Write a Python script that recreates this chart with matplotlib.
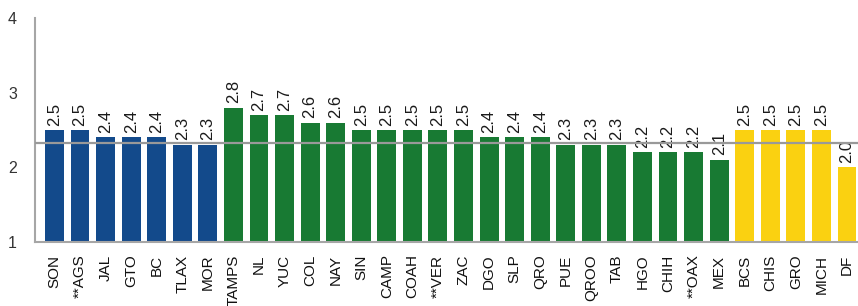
import matplotlib.pyplot as plt

plt.rcParams['font.family'] = ['Liberation Sans', 'DejaVu Sans']

# states, grouped by colour
states = ['SON', '**AGS', 'JAL', 'GTO', 'BC', 'TLAX', 'MOR',
          'TAMPS', 'NL', 'YUC', 'COL', 'NAY', 'SIN', 'CAMP', 'COAH', '**VER',
          'ZAC', 'DGO', 'SLP', 'QRO', 'PUE', 'QROO', 'TAB', 'HGO', 'CHIH',
          '**OAX', 'MEX',
          'BCS', 'CHIS', 'GRO', 'MICH', 'DF']
values = [2.5, 2.5, 2.4, 2.4, 2.4, 2.3, 2.3,
          2.8, 2.7, 2.7, 2.6, 2.6, 2.5, 2.5, 2.5, 2.5,
          2.5, 2.4, 2.4, 2.4, 2.3, 2.3, 2.3, 2.2, 2.2,
          2.2, 2.1,
          2.5, 2.5, 2.5, 2.5, 2.0]
groups = ['blue'] * 7 + ['green'] * 20 + ['yellow'] * 5
national_avg = 2.33

colours = {'blue': '#134a8b', 'green': '#187a33', 'yellow': '#fad111'}

fig = plt.figure(figsize=(8.58, 3.06), dpi=100)
ax = fig.add_axes([35 / 858, 64 / 306, 823 / 858, 224 / 306])

x = list(range(len(states)))
ax.bar(x, [v - 1 for v in values], bottom=1, width=0.74,
       color=[colours[g] for g in groups], zorder=2)

for xi, v in zip(x, values):
    ax.text(xi, v + 0.06, '%.1f' % v, rotation=90, ha='center', va='bottom',
            fontsize=12, color='#1a1a1a')

ax.axhline(national_avg, color='#999999', lw=1.6, zorder=3)

ax.set_xlim(-0.76, len(states) - 0.57)
ax.set_ylim(1, 4)
ax.set_yticks([1, 2, 3, 4])
ax.set_xticks(x)
ax.set_xticklabels(states, rotation=90, fontsize=11, color='#111111')
ax.tick_params(axis='x', length=0, pad=9)
ax.tick_params(axis='y', length=0, pad=13, labelsize=11.5, labelcolor='#333333')

for s in ['top', 'right']:
    ax.spines[s].set_visible(False)
for s in ['left', 'bottom']:
    ax.spines[s].set_color('#a6a6a6')
    ax.spines[s].set_linewidth(1.5)

fig.savefig('out.png', dpi=100)
